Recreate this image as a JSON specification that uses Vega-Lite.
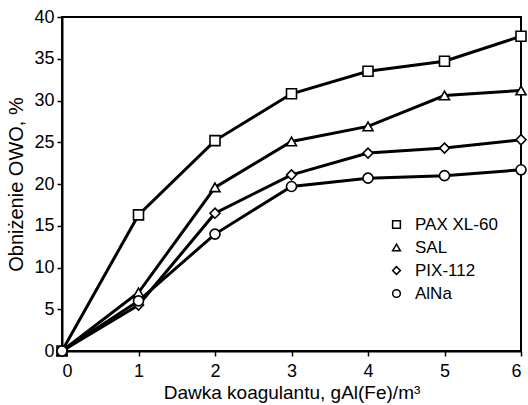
{
  "$schema": "https://vega.github.io/schema/vega-lite/v6.json",
  "autosize": {"type": "none"},
  "width": 459,
  "height": 334,
  "padding": {"left": 62, "top": 17, "right": 7, "bottom": 54},
  "background": "white",
  "config": {
    "font": "Liberation Sans",
    "view": {"stroke": "black", "strokeWidth": 2},
    "axis": {
      "domainColor": "black", "domainWidth": 2, "tickColor": "black", "tickWidth": 1.5, "tickSize": 5,
      "labelColor": "black", "labelFontSize": 18, "labelFont": "Liberation Sans",
      "titleColor": "black", "titleFontSize": 19, "titleFontWeight": "normal", "titleFont": "Liberation Sans",
      "grid": false
    }
  },
  "data": {"values": [
    {"dose": 0, "value": 0, "coagulant": "PAX XL-60"},
    {"dose": 1, "value": 16.3, "coagulant": "PAX XL-60"},
    {"dose": 2, "value": 25.2, "coagulant": "PAX XL-60"},
    {"dose": 3, "value": 30.8, "coagulant": "PAX XL-60"},
    {"dose": 4, "value": 33.5, "coagulant": "PAX XL-60"},
    {"dose": 5, "value": 34.7, "coagulant": "PAX XL-60"},
    {"dose": 6, "value": 37.7, "coagulant": "PAX XL-60"},
    {"dose": 0, "value": 0, "coagulant": "SAL"},
    {"dose": 1, "value": 7.0, "coagulant": "SAL"},
    {"dose": 2, "value": 19.6, "coagulant": "SAL"},
    {"dose": 3, "value": 25.1, "coagulant": "SAL"},
    {"dose": 4, "value": 26.9, "coagulant": "SAL"},
    {"dose": 5, "value": 30.6, "coagulant": "SAL"},
    {"dose": 6, "value": 31.2, "coagulant": "SAL"},
    {"dose": 0, "value": 0, "coagulant": "PIX-112"},
    {"dose": 1, "value": 5.5, "coagulant": "PIX-112"},
    {"dose": 2, "value": 16.5, "coagulant": "PIX-112"},
    {"dose": 3, "value": 21.1, "coagulant": "PIX-112"},
    {"dose": 4, "value": 23.7, "coagulant": "PIX-112"},
    {"dose": 5, "value": 24.3, "coagulant": "PIX-112"},
    {"dose": 6, "value": 25.3, "coagulant": "PIX-112"},
    {"dose": 0, "value": 0, "coagulant": "AlNa"},
    {"dose": 1, "value": 6.0, "coagulant": "AlNa"},
    {"dose": 2, "value": 14.0, "coagulant": "AlNa"},
    {"dose": 3, "value": 19.7, "coagulant": "AlNa"},
    {"dose": 4, "value": 20.7, "coagulant": "AlNa"},
    {"dose": 5, "value": 21.0, "coagulant": "AlNa"},
    {"dose": 6, "value": 21.7, "coagulant": "AlNa"}
  ]},
  "encoding": {
    "x": {"field": "dose", "type": "quantitative", "scale": {"domain": [0, 6], "nice": false},
          "axis": {"title": "Dawka koagulantu, gAl(Fe)/m³", "values": [0,1,2,3,4,5,6], "format": "d", "labelPadding": 6, "titlePadding": 3}},
    "y": {"field": "value", "type": "quantitative", "scale": {"domain": [0, 40], "nice": false},
          "axis": {"title": "Obniżenie OWO, %", "titleFontSize": 20, "values": [0,5,10,15,20,25,30,35,40], "labelPadding": 3, "titlePadding": 7}}
  },
  "layer": [
    {"mark": {"type": "line", "color": "black", "strokeWidth": 3},
     "encoding": {"detail": {"field": "coagulant"}}},
    {"mark": {"type": "point", "filled": true, "fill": "white", "stroke": "black", "strokeWidth": 1.6, "opacity": 1, "size": 100},
     "encoding": {
       "shape": {"field": "coagulant", "type": "nominal",
                 "scale": {"domain": ["PAX XL-60", "SAL", "PIX-112", "AlNa"], "range": ["square", "triangle-up", "diamond", "circle"]},
                 "legend": {"title": null, "orient": "none", "legendX": 326, "legendY": 199,
                            "labelFontSize": 17, "labelColor": "black", "labelFont": "Liberation Sans",
                            "symbolSize": 60, "rowPadding": 5, "labelOffset": 10,
                            "encode": {"symbols": {"update": {"fill": {"value": "white"}, "stroke": {"value": "black"}, "strokeWidth": {"value": 2}, "opacity": {"value": 1}}}}}}
     }}
  ]
}
